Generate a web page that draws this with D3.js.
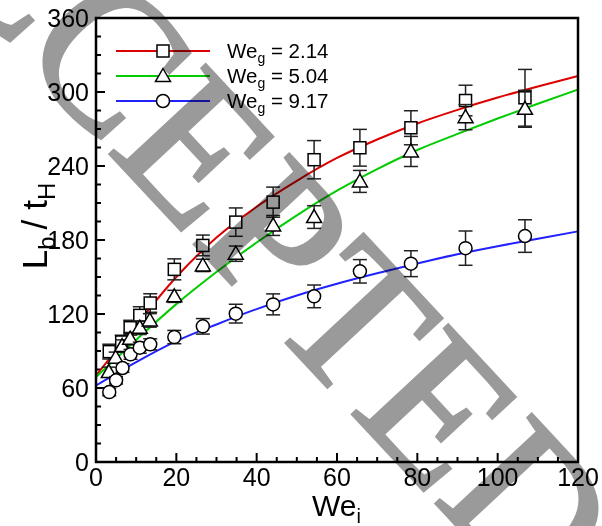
<!DOCTYPE html>
<html><head><meta charset="utf-8">
<script src="https://cdn.jsdelivr.net/npm/d3@7"></script>
<style>html,body{margin:0;padding:0;background:#fff;}svg{display:block;}</style>
</head><body>
<svg id="chart" width="602" height="526"></svg>
<script>
// ---- data ----
const xTicks = [0, 20, 40, 60, 80, 100, 120];
const yTicks = [0, 60, 120, 180, 240, 300, 360];
const seriesNames = ["2.14", "5.04", "9.17"];

const wei_214 = [3.3, 6.4, 8.5, 10.9, 13.5, 19.5, 26.6, 34.8, 44.1, 54.3, 65.7, 78.4, 92.0, 106.8];
const lb_214  = [89.5, 97.3, 108.9, 118.9, 128.9, 156.2, 175.6, 194.5, 210.7, 245.1, 254.8, 271.0, 293.1, 295.3];
const err_214 = [6, 5.5, 6, 7, 7.5, 8.5, 8.4, 11.5, 12.2, 15.5, 14.9, 13.8, 12.4, 23];

const wei_504 = [3.2, 4.9, 6.5, 8.5, 10.9, 13.4, 19.5, 26.6, 34.8, 44.1, 54.3, 65.7, 78.4, 92.0, 106.8];
const lb_504  = [72.9, 84.6, 94.0, 100.0, 108.9, 114.8, 134.3, 159.4, 168.9, 191.8, 198.6, 227.5, 251.8, 279.6, 286.4];
const err_504 = [4, 4.5, 5, 5, 5.5, 5.5, 4.9, 5.0, 6.2, 8.1, 9.2, 8.9, 12.2, 10.2, 15];

const wei_917 = [3.3, 5.0, 6.6, 8.6, 10.9, 13.5, 19.5, 26.6, 34.8, 44.1, 54.3, 65.7, 78.4, 92.0, 106.8];
const lb_917  = [56.7, 66.2, 76.2, 87.3, 92.7, 95.4, 101.3, 110.0, 120.3, 127.8, 134.3, 154.6, 160.8, 173.4, 183.2];
const err_917 = [3, 3, 3.5, 4, 4.5, 4.5, 5.4, 6.3, 7.6, 8.5, 9.2, 9.5, 10.5, 13.9, 13.2];

// fitted curves
const fitX     = [0, 10, 20, 30, 40, 50, 60, 70, 80, 90, 100, 110, 120];
const fit_214  = [70, 111, 150, 182, 207, 228, 246.5, 261.5, 274.5, 285.5, 295.5, 304.5, 313];
const fit_504  = [69, 99, 128, 154, 178, 200, 220, 237.5, 253, 266, 278.5, 290.5, 302];
const fit_917  = [62, 81, 98, 111.5, 124, 135, 144.5, 153, 161, 168.5, 175, 181, 187];

const watermark = "ACCEPTED";

// ---- chart ----
const svg = d3.select("#chart");
const M = {left: 96, right: 578, top: 18, bottom: 462};
const x = d3.scaleLinear().domain([0, 120]).range([M.left, M.right]);
const y = d3.scaleLinear().domain([0, 360]).range([M.bottom, M.top]);
const FONT = "Liberation Sans, Arial, sans-serif";

const colors = ["#dd0000", "#00cc00", "#2222ff"];
const shapes = ["square", "triangle", "circle"];
const series = [
  {xs: wei_214, ys: lb_214, es: err_214, fit: fit_214},
  {xs: wei_504, ys: lb_504, es: err_504, fit: fit_504},
  {xs: wei_917, ys: lb_917, es: err_917, fit: fit_917}
];

// ticks (inward)
const gAx = svg.append("g");
const xMinor = d3.range(0, 121, 5);
const yMinor = d3.range(0, 361, 15);
gAx.selectAll(".xm").data(xMinor).enter().append("line")
  .attr("x1", d => x(d)).attr("x2", d => x(d))
  .attr("y1", M.bottom).attr("y2", d => M.bottom - (xTicks.includes(d) ? 9 : 5))
  .attr("stroke", "#000").attr("stroke-width", 2);
gAx.selectAll(".ym").data(yMinor).enter().append("line")
  .attr("y1", d => y(d)).attr("y2", d => y(d))
  .attr("x1", M.left).attr("x2", d => M.left + (yTicks.includes(d) ? 9 : 5))
  .attr("stroke", "#000").attr("stroke-width", 2);

// tick labels
gAx.selectAll(".xl").data(xTicks).enter().append("text")
  .attr("x", d => x(d)).attr("y", 486).attr("text-anchor", "middle")
  .attr("font-family", FONT).attr("font-size", 25).text(d => d);
gAx.selectAll(".yl").data(yTicks).enter().append("text")
  .attr("x", 89).attr("y", d => y(d) + 9).attr("text-anchor", "end")
  .attr("font-family", FONT).attr("font-size", 25).text(d => d);

// fitted lines
const line = d3.line().x(d => x(d[0])).y(d => y(d[1])).curve(d3.curveMonotoneX);
series.forEach((s, i) => {
  svg.append("path").datum(fitX.map((v, k) => [v, s.fit[k]]))
    .attr("d", line).attr("fill", "none").attr("stroke", colors[i]).attr("stroke-width", 2);
});

// markers
function drawMarker(g, shape, cx, cy) {
  if (shape === "square") {
    g.append("rect").attr("x", cx - 6).attr("y", cy - 6).attr("width", 12).attr("height", 12)
      .attr("fill", "#fff").attr("stroke", "#000").attr("stroke-width", 1.5);
  } else if (shape === "triangle") {
    g.append("path").attr("d", `M${cx},${cy - 7.5}L${cx + 7.5},${cy + 5.5}L${cx - 7.5},${cy + 5.5}Z`)
      .attr("fill", "#fff").attr("stroke", "#000").attr("stroke-width", 1.5);
  } else {
    g.append("circle").attr("cx", cx).attr("cy", cy).attr("r", 6.5)
      .attr("fill", "#fff").attr("stroke", "#000").attr("stroke-width", 1.5);
  }
}

series.forEach((s, i) => {
  const g = svg.append("g");
  s.xs.forEach((xv, k) => {
    const cx = x(xv), top = y(s.ys[k] + s.es[k]), bot = y(s.ys[k] - s.es[k]);
    g.append("line").attr("x1", cx).attr("x2", cx).attr("y1", top).attr("y2", bot)
      .attr("stroke", "#222").attr("stroke-width", 1.5);
    [top, bot].forEach(yy => g.append("line").attr("x1", cx - 7).attr("x2", cx + 7)
      .attr("y1", yy).attr("y2", yy).attr("stroke", "#222").attr("stroke-width", 1.5));
  });
  s.xs.forEach((xv, k) => drawMarker(g, shapes[i], x(xv), y(s.ys[k])));
});

// frame
svg.append("rect").attr("x", M.left).attr("y", M.top).attr("width", M.right - M.left)
  .attr("height", M.bottom - M.top).attr("fill", "none").attr("stroke", "#000").attr("stroke-width", 2.5);

// legend
const legY = [51, 76, 101];
seriesNames.forEach((nm, i) => {
  svg.append("line").attr("x1", 116).attr("x2", 210).attr("y1", legY[i]).attr("y2", legY[i])
    .attr("stroke", colors[i]).attr("stroke-width", 2);
  drawMarker(svg, shapes[i], 163, legY[i]);
  const t = svg.append("text").attr("x", 227).attr("y", legY[i] + 7)
    .attr("font-family", FONT).attr("font-size", 20.5);
  t.append("tspan").text("We");
  t.append("tspan").attr("dy", 5).attr("font-size", 14).text("g");
  t.append("tspan").attr("dy", -5).text(" = " + nm);
});

// axis titles
const xt = svg.append("text").attr("x", 312).attr("y", 516)
  .attr("font-family", FONT).attr("font-size", 30);
xt.append("tspan").text("We");
xt.append("tspan").attr("dy", 7).attr("font-size", 20).text("i");

const yt = svg.append("text").attr("transform", "translate(47,226) rotate(-90)")
  .attr("text-anchor", "middle").attr("font-family", FONT).attr("font-size", 35);
yt.append("tspan").text("L");
yt.append("tspan").attr("dy", 8).attr("font-size", 24).text("b");
yt.append("tspan").attr("dy", -8).attr("dx", 7).text("/");
yt.append("tspan").attr("dx", 10).text("t");
yt.append("tspan").attr("dy", 8).attr("font-size", 24).text("H");

// watermark (overlays the plot, multiplied like the reference)
svg.append("text").attr("transform", "translate(178,227) rotate(47)")
  .attr("text-anchor", "middle").attr("font-family", "Liberation Serif, Times New Roman, serif")
  .attr("font-size", 200).attr("fill", "#9a9a9a").attr("stroke", "#9a9a9a").attr("stroke-width", 3)
  .style("mix-blend-mode", "multiply")
  .text(watermark);
</script>
</body></html>
